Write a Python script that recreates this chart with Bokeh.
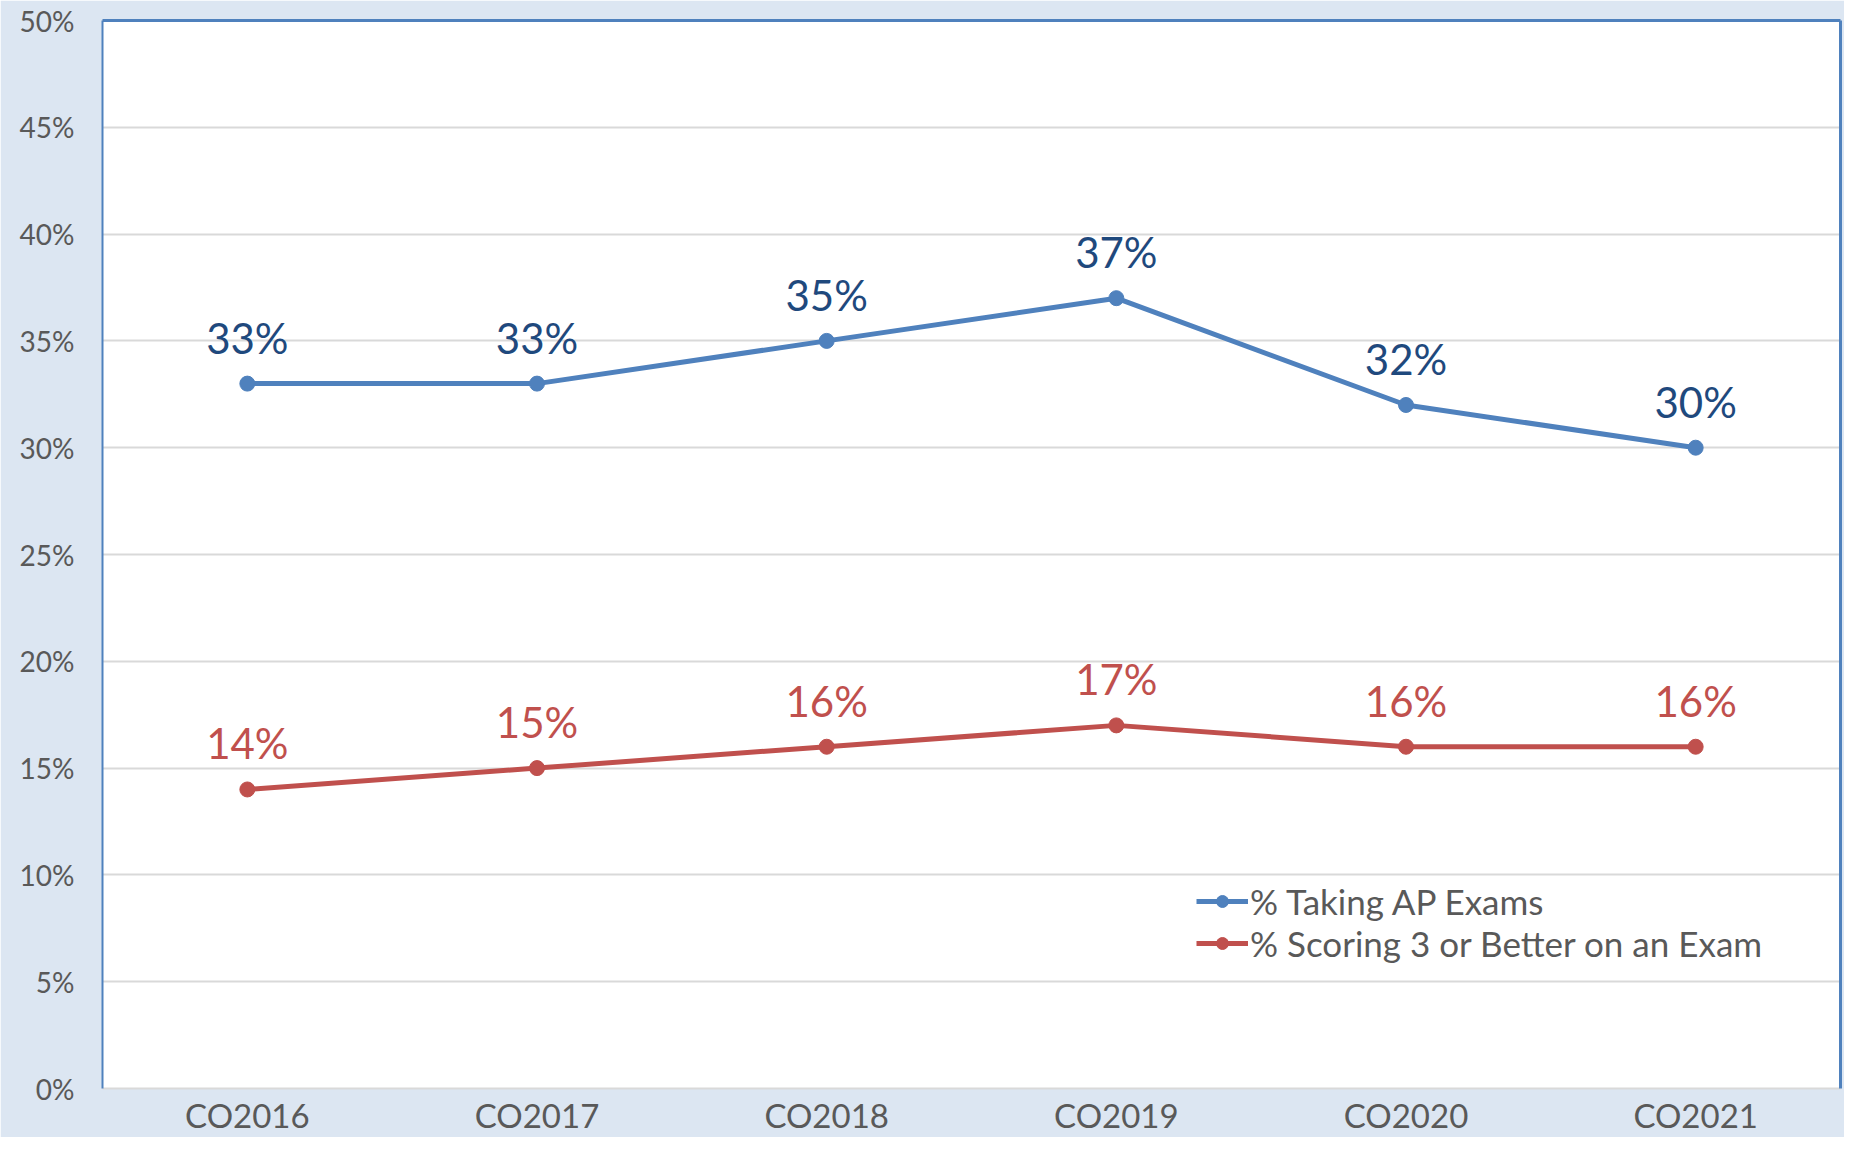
from bokeh.plotting import figure
from bokeh.models import ColumnDataSource, FactorRange, Range1d, NumeralTickFormatter, FixedTicker, Legend, LegendItem, LinearAxis, CategoricalAxis
from bokeh.core.properties import value
from bokeh.embed import file_html
from bokeh.resources import INLINE

years = ["CO2016", "CO2017", "CO2018", "CO2019", "CO2020", "CO2021"]
taking_ap = [33, 33, 35, 37, 32, 30]
scoring_3 = [14, 15, 16, 17, 16, 16]
y_ticks = [0, 5, 10, 15, 20, 25, 30, 35, 40, 45, 50]

FONT = "Lato"
BG = "#DCE6F2"
BLUE = "#4F81BD"
RED = "#C0504D"
NAVY = "#1F497D"
GRAY_TEXT = "#595959"

src = ColumnDataSource(dict(
    x=years,
    ap=[v / 100 for v in taking_ap],
    sc=[v / 100 for v in scoring_3],
    ap_lbl=[f"{v}%" for v in taking_ap],
    sc_lbl=[f"{v}%" for v in scoring_3],
))

p = figure(width=1844, height=1137, x_range=FactorRange(*years), y_range=Range1d(0, 0.5),
           output_backend="svg", toolbar_location=None,
           min_border_left=102, min_border_top=20, min_border_right=4, min_border_bottom=49)
p.background_fill_color = "white"
p.border_fill_color = BG
p.outline_line_color = None

# grid
p.xgrid.grid_line_color = None
p.ygrid.grid_line_color = "#D9D9D9"
p.ygrid.grid_line_width = 2

# y axis
p.yaxis.ticker = FixedTicker(ticks=[t / 100 for t in y_ticks])
p.yaxis.formatter = NumeralTickFormatter(format="0%")
p.yaxis.axis_line_color = BLUE
p.yaxis.axis_line_width = 2
p.yaxis.major_tick_line_color = None
p.yaxis.minor_tick_line_color = None
p.yaxis.major_tick_out = 0
p.yaxis.minor_tick_out = 0
p.yaxis.major_label_text_font = FONT
p.yaxis.major_label_text_font_size = "28px"
p.yaxis.major_label_text_color = GRAY_TEXT
p.yaxis.major_label_standoff = 28

# x axis
p.xaxis.axis_line_color = "#D9D9D9"
p.xaxis.axis_line_width = 2
p.xaxis.major_tick_line_color = None
p.xaxis.minor_tick_line_color = None
p.xaxis.major_tick_out = 0
p.xaxis.major_label_text_font = FONT
p.xaxis.major_label_text_font_size = "33px"
p.xaxis.major_label_text_color = GRAY_TEXT
p.xaxis.major_label_standoff = 6

# border right and top (blue frame lines, no ticks)
ra = LinearAxis(ticker=FixedTicker(ticks=[]), major_tick_line_color=None, minor_tick_line_color=None,
                axis_line_color=BLUE, axis_line_width=3, major_label_standoff=0,
                major_tick_out=0, minor_tick_out=0)
p.add_layout(ra, "right")
ta = CategoricalAxis(ticker=FixedTicker(ticks=[]), major_tick_line_color=None,
                     minor_tick_line_color=None, axis_line_color=BLUE, axis_line_width=3,
                     major_label_standoff=0, major_tick_out=0, minor_tick_out=0)
p.add_layout(ta, "above")

l1 = p.line("x", "ap", source=src, line_color=BLUE, line_width=5)
c1 = p.scatter("x", "ap", source=src, size=15, fill_color=BLUE, line_color=BLUE)
l2 = p.line("x", "sc", source=src, line_color=RED, line_width=5)
c2 = p.scatter("x", "sc", source=src, size=15, fill_color=RED, line_color=RED)

p.text("x", "ap", text="ap_lbl", source=src, text_font=value(FONT), text_font_size="42px",
       text_color=NAVY, text_align="center", text_baseline="bottom", y_offset=-21)
p.text("x", "sc", text="sc_lbl", source=src, text_font=value(FONT), text_font_size="42px",
       text_color=RED, text_align="center", text_baseline="bottom", y_offset=-21)

legend = Legend(items=[
    LegendItem(label="% Taking AP Exams", renderers=[l1, c1]),
    LegendItem(label="% Scoring 3 or Better on an Exam", renderers=[l2, c2]),
], location=(1094, 124))
legend.label_text_font = FONT
legend.label_text_font_size = "35px"
legend.label_text_color = GRAY_TEXT
legend.background_fill_alpha = 0
legend.border_line_color = None
legend.padding = 0
legend.margin = 0
legend.spacing = -4
legend.glyph_width = 52
legend.glyph_height = 30
legend.label_height = 30
legend.label_standoff = 2
p.add_layout(legend, "center")

open("out.html", "w").write(file_html(p, INLINE))
